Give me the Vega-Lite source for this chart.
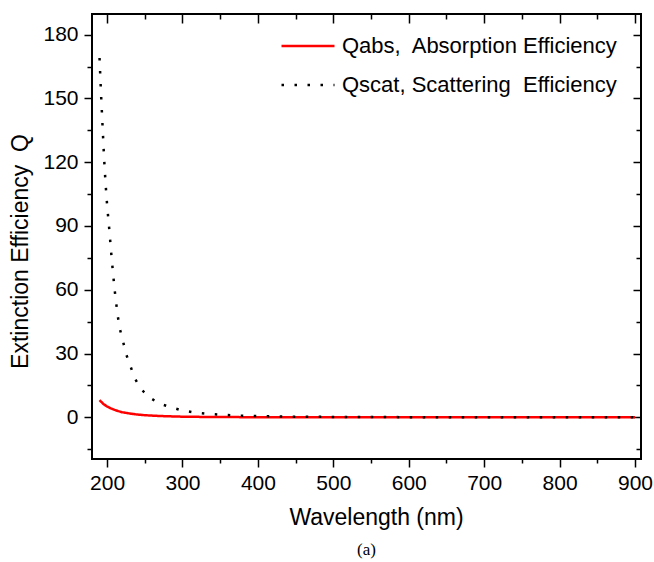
{
  "$schema": "https://vega.github.io/schema/vega-lite/v6.json",
  "width": 549,
  "height": 445,
  "autosize": "none",
  "padding": {"left": 92, "top": 14, "right": 13, "bottom": 103},
  "background": "white",
  "config": {
    "view": {"stroke": "#000", "strokeWidth": 2},
    "axis": {"grid": false, "domain": false, "tickColor": "#000", "tickWidth": 1.5, "labelColor": "#000", "titleColor": "#000", "labelFont": "Liberation Sans", "titleFont": "Liberation Sans", "labelFontSize": 21, "titleFontSize": 23, "titleFontWeight": "normal"}
  },
  "title": {"text": "(a)", "orient": "bottom", "font": "Liberation Serif", "fontSize": 17, "fontWeight": "normal", "color": "#000", "offset": 13, "anchor": "middle"},
  "data": {"values": [
    {"series": "Qabs,\u00a0 Absorption Efficiency", "wl": 190, "q": 8.1},
    {"series": "Qabs,\u00a0 Absorption Efficiency", "wl": 195, "q": 6.3},
    {"series": "Qabs,\u00a0 Absorption Efficiency", "wl": 200, "q": 5.1},
    {"series": "Qabs,\u00a0 Absorption Efficiency", "wl": 205, "q": 4.2},
    {"series": "Qabs,\u00a0 Absorption Efficiency", "wl": 210, "q": 3.5},
    {"series": "Qabs,\u00a0 Absorption Efficiency", "wl": 215, "q": 2.9},
    {"series": "Qabs,\u00a0 Absorption Efficiency", "wl": 220, "q": 2.4},
    {"series": "Qabs,\u00a0 Absorption Efficiency", "wl": 230, "q": 1.8},
    {"series": "Qabs,\u00a0 Absorption Efficiency", "wl": 240, "q": 1.3},
    {"series": "Qabs,\u00a0 Absorption Efficiency", "wl": 250, "q": 1.0},
    {"series": "Qabs,\u00a0 Absorption Efficiency", "wl": 265, "q": 0.7},
    {"series": "Qabs,\u00a0 Absorption Efficiency", "wl": 280, "q": 0.5},
    {"series": "Qabs,\u00a0 Absorption Efficiency", "wl": 300, "q": 0.3},
    {"series": "Qabs,\u00a0 Absorption Efficiency", "wl": 330, "q": 0.18},
    {"series": "Qabs,\u00a0 Absorption Efficiency", "wl": 370, "q": 0.1},
    {"series": "Qabs,\u00a0 Absorption Efficiency", "wl": 420, "q": 0.06},
    {"series": "Qabs,\u00a0 Absorption Efficiency", "wl": 500, "q": 0.03},
    {"series": "Qabs,\u00a0 Absorption Efficiency", "wl": 600, "q": 0.01},
    {"series": "Qabs,\u00a0 Absorption Efficiency", "wl": 700, "q": 0.005},
    {"series": "Qabs,\u00a0 Absorption Efficiency", "wl": 800, "q": 0.003},
    {"series": "Qabs,\u00a0 Absorption Efficiency", "wl": 900, "q": 0.002},
    {"series": "Qscat, Scattering\u00a0 Efficiency", "wl": 190, "q": 169},
    {"series": "Qscat, Scattering\u00a0 Efficiency", "wl": 192, "q": 152},
    {"series": "Qscat, Scattering\u00a0 Efficiency", "wl": 194, "q": 137},
    {"series": "Qscat, Scattering\u00a0 Efficiency", "wl": 196, "q": 122},
    {"series": "Qscat, Scattering\u00a0 Efficiency", "wl": 198, "q": 110},
    {"series": "Qscat, Scattering\u00a0 Efficiency", "wl": 200, "q": 100},
    {"series": "Qscat, Scattering\u00a0 Efficiency", "wl": 203, "q": 88},
    {"series": "Qscat, Scattering\u00a0 Efficiency", "wl": 206, "q": 75},
    {"series": "Qscat, Scattering\u00a0 Efficiency", "wl": 210, "q": 60},
    {"series": "Qscat, Scattering\u00a0 Efficiency", "wl": 214, "q": 48},
    {"series": "Qscat, Scattering\u00a0 Efficiency", "wl": 217, "q": 41.5},
    {"series": "Qscat, Scattering\u00a0 Efficiency", "wl": 221, "q": 36},
    {"series": "Qscat, Scattering\u00a0 Efficiency", "wl": 225, "q": 30},
    {"series": "Qscat, Scattering\u00a0 Efficiency", "wl": 231, "q": 24},
    {"series": "Qscat, Scattering\u00a0 Efficiency", "wl": 237, "q": 18.2},
    {"series": "Qscat, Scattering\u00a0 Efficiency", "wl": 243, "q": 14.5},
    {"series": "Qscat, Scattering\u00a0 Efficiency", "wl": 249, "q": 11.8},
    {"series": "Qscat, Scattering\u00a0 Efficiency", "wl": 257, "q": 9.2},
    {"series": "Qscat, Scattering\u00a0 Efficiency", "wl": 266, "q": 7.2},
    {"series": "Qscat, Scattering\u00a0 Efficiency", "wl": 275, "q": 5.8},
    {"series": "Qscat, Scattering\u00a0 Efficiency", "wl": 284, "q": 4.8},
    {"series": "Qscat, Scattering\u00a0 Efficiency", "wl": 300, "q": 3.2},
    {"series": "Qscat, Scattering\u00a0 Efficiency", "wl": 317, "q": 2.2},
    {"series": "Qscat, Scattering\u00a0 Efficiency", "wl": 334, "q": 1.6},
    {"series": "Qscat, Scattering\u00a0 Efficiency", "wl": 351, "q": 1.2},
    {"series": "Qscat, Scattering\u00a0 Efficiency", "wl": 368, "q": 0.9},
    {"series": "Qscat, Scattering\u00a0 Efficiency", "wl": 400, "q": 0.55},
    {"series": "Qscat, Scattering\u00a0 Efficiency", "wl": 450, "q": 0.3},
    {"series": "Qscat, Scattering\u00a0 Efficiency", "wl": 500, "q": 0.18},
    {"series": "Qscat, Scattering\u00a0 Efficiency", "wl": 600, "q": 0.08},
    {"series": "Qscat, Scattering\u00a0 Efficiency", "wl": 700, "q": 0.04},
    {"series": "Qscat, Scattering\u00a0 Efficiency", "wl": 800, "q": 0.02},
    {"series": "Qscat, Scattering\u00a0 Efficiency", "wl": 900, "q": 0.01}
  ]},
  "resolve": {"axis": {"x": "independent", "y": "independent"}},
  "layer": [
    {
      "mark": {"type": "line", "strokeWidth": 2.5, "strokeCap": "butt", "clip": true},
      "encoding": {
        "x": {"field": "wl", "type": "quantitative", "scale": {"domain": [180, 908], "nice": false, "zero": false},
              "axis": {"orient": "bottom", "values": [200, 300, 400, 500, 600, 700, 800, 900], "tickSize": 8, "labelPadding": 5, "title": "Wavelength (nm)", "titlePadding": 13, "titleX": 284}},
        "y": {"field": "q", "type": "quantitative", "scale": {"domain": [-19.6, 189.7], "nice": false, "zero": false},
              "axis": {"orient": "left", "values": [0, 30, 60, 90, 120, 150, 180], "tickSize": 8, "labelPadding": 6, "title": "Extinction Efficiency\u00a0 Q", "titlePadding": 10, "titleY": 237}},
        "color": {"field": "series", "type": "nominal", "scale": {"domain": ["Qabs,\u00a0 Absorption Efficiency", "Qscat, Scattering\u00a0 Efficiency"], "range": ["#ff0000", "#000000"]},
                  "legend": {"title": null, "orient": "none", "legendX": 188, "legendY": 4, "padding": 0, "symbolType": "stroke", "symbolSize": 2809, "symbolStrokeWidth": 2.5, "labelFont": "Liberation Sans", "labelFontSize": 22, "labelColor": "#000", "labelOffset": 6, "rowPadding": -60, "labelLimit": 400}},
        "strokeDash": {"field": "series", "type": "nominal", "scale": {"domain": ["Qabs,\u00a0 Absorption Efficiency", "Qscat, Scattering\u00a0 Efficiency"], "range": [[1, 0], [2.5, 10.5]]}, "legend": null}
      }
    },
    {
      "mark": {"type": "point", "opacity": 0},
      "encoding": {
        "x": {"field": "wl", "type": "quantitative", "axis": {"orient": "bottom", "values": [250, 350, 450, 550, 650, 750, 850], "tickSize": 4, "labels": false, "title": null}},
        "y": {"field": "q", "type": "quantitative", "axis": {"orient": "left", "values": [-15, 15, 45, 75, 105, 135, 165], "tickSize": 5, "labels": false, "title": null}}
      }
    },
    {
      "mark": {"type": "point", "opacity": 0},
      "encoding": {
        "x": {"field": "wl", "type": "quantitative", "axis": {"orient": "top", "values": [200, 300, 400, 500, 600, 700, 800, 900], "tickSize": -9, "labels": false, "title": null}},
        "y": {"field": "q", "type": "quantitative", "axis": {"orient": "right", "values": [0, 30, 60, 90, 120, 150, 180], "tickSize": -8, "labels": false, "title": null}}
      }
    },
    {
      "mark": {"type": "point", "opacity": 0},
      "encoding": {
        "x": {"field": "wl", "type": "quantitative", "axis": {"orient": "top", "values": [250, 350, 450, 550, 650, 750, 850], "tickSize": -5, "labels": false, "title": null}},
        "y": {"field": "q", "type": "quantitative", "axis": {"orient": "right", "values": [-15, 15, 45, 75, 105, 135, 165], "tickSize": -5, "labels": false, "title": null}}
      }
    }
  ]
}
